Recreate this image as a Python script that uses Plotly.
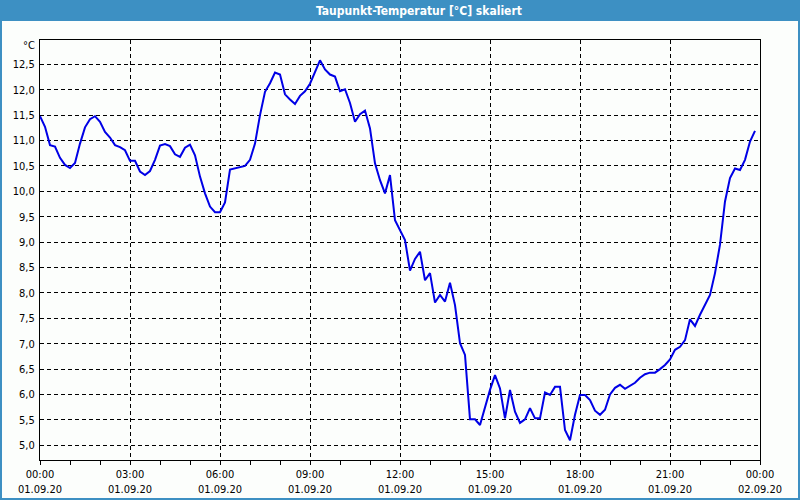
import plotly.graph_objects as go
from datetime import datetime, timedelta

# Dew point readings, every 10 minutes from 01.09.20 00:00 to 23:50
values = [
    11.48, 11.27, 10.91, 10.88, 10.66, 10.52, 10.46, 10.56, 10.94, 11.26,
    11.42, 11.48, 11.37, 11.17, 11.06, 10.91, 10.87, 10.81, 10.60, 10.60,
    10.39, 10.32, 10.40, 10.62, 10.90, 10.93, 10.89, 10.73, 10.68, 10.86,
    10.92, 10.71, 10.29, 9.96, 9.70, 9.59, 9.59, 9.78, 10.43, 10.45,
    10.47, 10.50, 10.62, 10.94, 11.50, 11.96, 12.13, 12.34, 12.30, 11.91,
    11.81, 11.72, 11.88, 11.97, 12.12, 12.35, 12.58, 12.40, 12.30, 12.26,
    11.97, 12.01, 11.74, 11.37, 11.52, 11.59, 11.24, 10.55, 10.22, 9.96,
    10.32, 9.43, 9.24, 9.04, 8.44, 8.67, 8.81, 8.25, 8.39, 7.81,
    7.96, 7.83, 8.20, 7.76, 7.01, 6.78, 5.51, 5.51, 5.40, 5.76,
    6.09, 6.38, 6.12, 5.53, 6.09, 5.66, 5.44, 5.51, 5.73, 5.53,
    5.53, 6.04, 5.99, 6.15, 6.15, 5.30, 5.10, 5.60, 5.99, 5.99,
    5.89, 5.68, 5.60, 5.70, 6.00, 6.13, 6.19, 6.11, 6.17, 6.23,
    6.33, 6.40, 6.43, 6.43, 6.50, 6.58, 6.69, 6.88, 6.94, 7.07,
    7.48, 7.35, 7.57, 7.76, 7.96, 8.39, 8.95, 9.80, 10.26, 10.45,
    10.42, 10.62, 10.98, 11.19,
]
start = datetime(2020, 9, 1, 0, 0)
times = [start + timedelta(minutes=10 * i) for i in range(len(values))]

tick_times = ["2020-09-01 00:00", "2020-09-01 03:00", "2020-09-01 06:00",
              "2020-09-01 09:00", "2020-09-01 12:00", "2020-09-01 15:00",
              "2020-09-01 18:00", "2020-09-01 21:00", "2020-09-02 00:00"]
tick_labels = ["00:00<br>01.09.20", "03:00<br>01.09.20", "06:00<br>01.09.20",
               "09:00<br>01.09.20", "12:00<br>01.09.20", "15:00<br>01.09.20",
               "18:00<br>01.09.20", "21:00<br>01.09.20", "00:00<br>02.09.20"]
y_ticks = [5.0, 5.5, 6.0, 6.5, 7.0, 7.5, 8.0, 8.5, 9.0, 9.5, 10.0, 10.5, 11.0, 11.5, 12.0, 12.5]

title_text = "Taupunkt-Temperatur [°C] skaliert"
unit_text = "°C"

FONT = "DejaVu Sans Condensed, Liberation Sans, sans-serif"
W, H = 800, 500
ML, MR, MT, MB = 40, 40, 40, 40
PW, PH = W - ML - MR, H - MT - MB

def px_x(x):
    return (x - ML) / PW

def px_y(y):
    return (H - MB - y) / PH

fig = go.Figure()
fig.add_trace(go.Scatter(x=times, y=values, mode="lines",
                         line=dict(color="#0000e6", width=2), showlegend=False,
                         hoverinfo="skip"))

fig.update_layout(
    width=W, height=H,
    margin=dict(l=ML, r=MR, t=MT, b=MB, autoexpand=False),
    paper_bgcolor="#fcfefc", plot_bgcolor="#fcfefc",
    separators=",.",
    font=dict(family=FONT, size=11, color="#000000"),
    xaxis=dict(
        type="date", automargin=False,
        range=["2020-09-01 00:00", "2020-09-02 00:00"],
        tickmode="array", tickvals=tick_times, ticktext=tick_labels,
        ticks="outside", ticklen=4, tickcolor="#000000",
        showgrid=True, gridcolor="#000000", gridwidth=1, griddash="4px,3px",
        showline=True, linecolor="#000000", linewidth=1, mirror=True,
        zeroline=False,
        minor=dict(dtick=3600000, ticks="outside", ticklen=4, tickcolor="#000000", showgrid=False),
        tickfont=dict(family=FONT, size=11),
    ),
    yaxis=dict(
        automargin=False,
        range=[4.71, 12.98],
        tickmode="array", tickvals=y_ticks, tickformat=".1f",
        ticks="", showgrid=True, gridcolor="#000000", gridwidth=1, griddash="4px,3px",
        showline=True, linecolor="#000000", linewidth=1, mirror=True,
        zeroline=False,
        tickfont=dict(family=FONT, size=11),
        ticklabelstandoff=2,
    ),
    shapes=[
        dict(type="rect", xref="paper", yref="paper",
             x0=px_x(0), x1=px_x(W), y0=px_y(21), y1=px_y(0),
             fillcolor="#3d90c3", line=dict(width=0), layer="below"),
        dict(type="rect", xref="paper", yref="paper",
             x0=px_x(1), x1=px_x(W - 1), y0=px_y(H - 1), y1=px_y(1),
             fillcolor="rgba(0,0,0,0)", line=dict(color="#3d90c3", width=2)),
    ],
    annotations=[
        dict(text=title_text, xref="paper", yref="paper",
             x=px_x(419), y=px_y(10.5), xanchor="center", yanchor="middle",
             showarrow=False, font=dict(family=FONT, size=12, color="#ffffff", weight="bold")),
        dict(text=unit_text, xref="paper", yref="paper",
             x=px_x(37), y=px_y(45.5), xanchor="right", yanchor="middle",
             showarrow=False, font=dict(family=FONT, size=11, color="#000000")),
    ],
)

fig.write_html("out.html",
               config={"displayModeBar": False},
               post_script="document.body.style.margin='0';document.body.style.overflow='hidden';")
